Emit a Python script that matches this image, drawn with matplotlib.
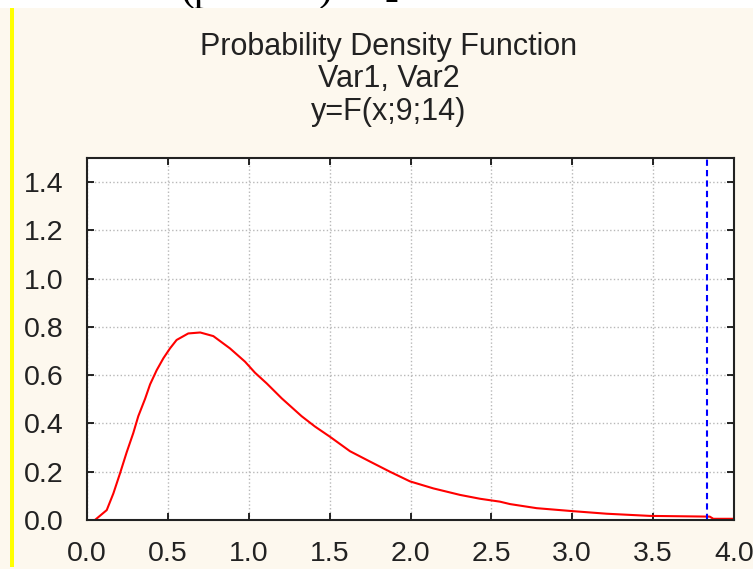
import numpy as np
import matplotlib.pyplot as plt
from matplotlib.patches import Rectangle

x = [0.049, 0.122, 0.163, 0.204, 0.245, 0.286, 0.317, 0.359, 0.39, 0.431, 0.472,
     0.513, 0.554, 0.626, 0.70, 0.781, 0.884, 0.977, 1.039, 1.111, 1.204, 1.327,
     1.41, 1.502, 1.626, 1.75, 1.873, 1.997, 2.141, 2.306, 2.43, 2.553, 2.615,
     2.78, 2.997, 3.213, 3.48, 3.85, 3.872, 4.0]
y = [0.0, 0.041, 0.11, 0.193, 0.28, 0.36, 0.43, 0.502, 0.562, 0.621, 0.67,
     0.711, 0.746, 0.773, 0.777, 0.762, 0.711, 0.656, 0.61, 0.566, 0.504, 0.43,
     0.387, 0.345, 0.285, 0.242, 0.20, 0.16, 0.131, 0.104, 0.088, 0.076, 0.066,
     0.049, 0.037, 0.026, 0.017, 0.014, 0.005, 0.005]
crit = 3.833   # blue dashed line

xticks = [0.0, 0.5, 1.0, 1.5, 2.0, 2.5, 3.0, 3.5, 4.0]
yticks = [0.0, 0.2, 0.4, 0.6, 0.8, 1.0, 1.2, 1.4]
title_lines = ['Probability Density Function', 'Var1, Var2', 'y=F(x;9;14)']

W, H = 753, 569
fig = plt.figure(figsize=(W/100, H/100), dpi=100, facecolor='white')
plt.rcParams['font.family'] = ['Liberation Sans', 'DejaVu Sans']

cream = '#fdf8ee'
fig.patches.append(Rectangle((0, 0), 1, 1 - 8/H, transform=fig.transFigure,
                             facecolor=cream, edgecolor='none', zorder=-3))
fig.patches.append(Rectangle((10/W, 2/H), 4/W, 1 - 10/H, transform=fig.transFigure,
                             facecolor='#ffff00', edgecolor='none', zorder=-2))

# clipped fragment of text above the chart
top = fig.add_axes([0, 1 - 8/H, 1, 8/H])
top.axis('off')
top.text(180/W, 1.0, '(p-value)', transform=top.transAxes, fontsize=30,
         fontfamily='Liberation Serif', clip_on=True, va='baseline')
top.text(385/W, -0.2, '-', transform=top.transAxes, fontsize=30,
         fontfamily='Liberation Serif', clip_on=True, va='baseline')

fig.text(389/W, 1 - 32/H, '\n'.join(title_lines), ha='center', va='top',
         fontsize=22, color='#222222', linespacing=1.1)

ax = fig.add_axes([87/W, (H - 520)/H, (734 - 87)/W, (520 - 158)/H])
ax.plot(x, y, color='red', lw=1.5)
ax.axvline(crit, color='blue', ls=(0, (3, 2)), lw=1.5)

ax.set_xlim(0, 4.0)
ax.set_ylim(0, 1.5)
ax.set_xticks(xticks)
ax.set_yticks(yticks)
ax.set_xticklabels(['%.1f' % v for v in xticks])
ax.set_yticklabels(['%.1f' % v for v in yticks])
ax.tick_params(direction='in', length=5, width=1.2, top=True, right=True,
               labelsize=20.5, labelcolor='#222222')
ax.tick_params(axis='x', pad=15)
ax.tick_params(axis='y', pad=17)
ax.grid(color='#b8b8b8', ls=':', lw=1)
for s in ax.spines.values():
    s.set_linewidth(1.5)
    s.set_color('#222222')

plt.savefig('out.png', dpi=100, facecolor='white')
